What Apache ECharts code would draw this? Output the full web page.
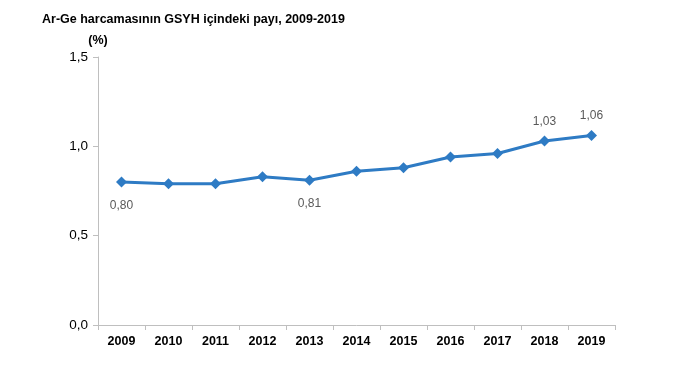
<!DOCTYPE html>
<html><head><meta charset="utf-8">
<script src="https://cdn.jsdelivr.net/npm/echarts@6/dist/echarts.min.js"></script>
<style>html,body{margin:0;padding:0;background:#fff}#c{width:680px;height:372px}</style>
</head><body><div id="c"></div>
<script>
const years = ['2009','2010','2011','2012','2013','2014','2015','2016','2017','2018','2019'];
const values = [0.80,0.79,0.79,0.83,0.81,0.86,0.88,0.94,0.96,1.03,1.06];
const labelBelow = ['2009','2013'];
const labelAbove = ['2018','2019'];
const yTicks = [0, 0.5, 1.0, 1.5];

const chart = echarts.init(document.getElementById('c'));
const data = values.map((v,i)=>{
  const y = years[i];
  const d = {value:v};
  if (labelBelow.includes(y)) d.label = {show:true, position:'bottom', distance:12};
  else if (labelAbove.includes(y)) d.label = {show:true, position:'top', distance:8};
  return d;
});
chart.setOption({
  animation:false,
  title:{text:'Ar-Ge harcamasının GSYH içindeki payı, 2009-2019', left:37, top:8,
    textStyle:{fontFamily:'Liberation Sans, Arial', fontSize:12.5, fontWeight:'bold', color:'#000'}},
  grid:{left:98, right:65, top:57, bottom:47},
  xAxis:{type:'category', data:years, boundaryGap:true,
    axisLine:{lineStyle:{color:'#bfbfbf'}},
    axisTick:{show:true, length:5, lineStyle:{color:'#bfbfbf'}},
    axisLabel:{color:'#000', fontFamily:'Liberation Sans, Arial', fontSize:12.5, fontWeight:'bold', margin:10}},
  yAxis:{type:'value', min:0, max:1.5, interval:0.5,
    name:'(%)', nameLocation:'end', nameGap:10,
    nameTextStyle:{color:'#000', fontFamily:'Liberation Sans, Arial', fontSize:12.5, fontWeight:'bold', align:'center', padding:[0,0,0,0]},
    axisLine:{show:true, lineStyle:{color:'#bfbfbf'}},
    axisTick:{show:true, length:5, lineStyle:{color:'#bfbfbf'}},
    splitLine:{show:false},
    axisLabel:{color:'#000', fontFamily:'Liberation Sans, Arial', fontSize:13.5, margin:10,
      formatter:v=>yTicks.includes(v)?v.toFixed(1).replace('.',','):''}},
  series:[{type:'line', data:data, symbol:'diamond', symbolSize:11,
    lineStyle:{color:'#2e7bc4', width:3},
    itemStyle:{color:'#2e7bc4'},
    label:{show:false, color:'#595959', fontFamily:'Liberation Sans, Arial', fontSize:12,
      formatter:p=>p.value.toFixed(2).replace('.',',')}}]
});
</script></body></html>
